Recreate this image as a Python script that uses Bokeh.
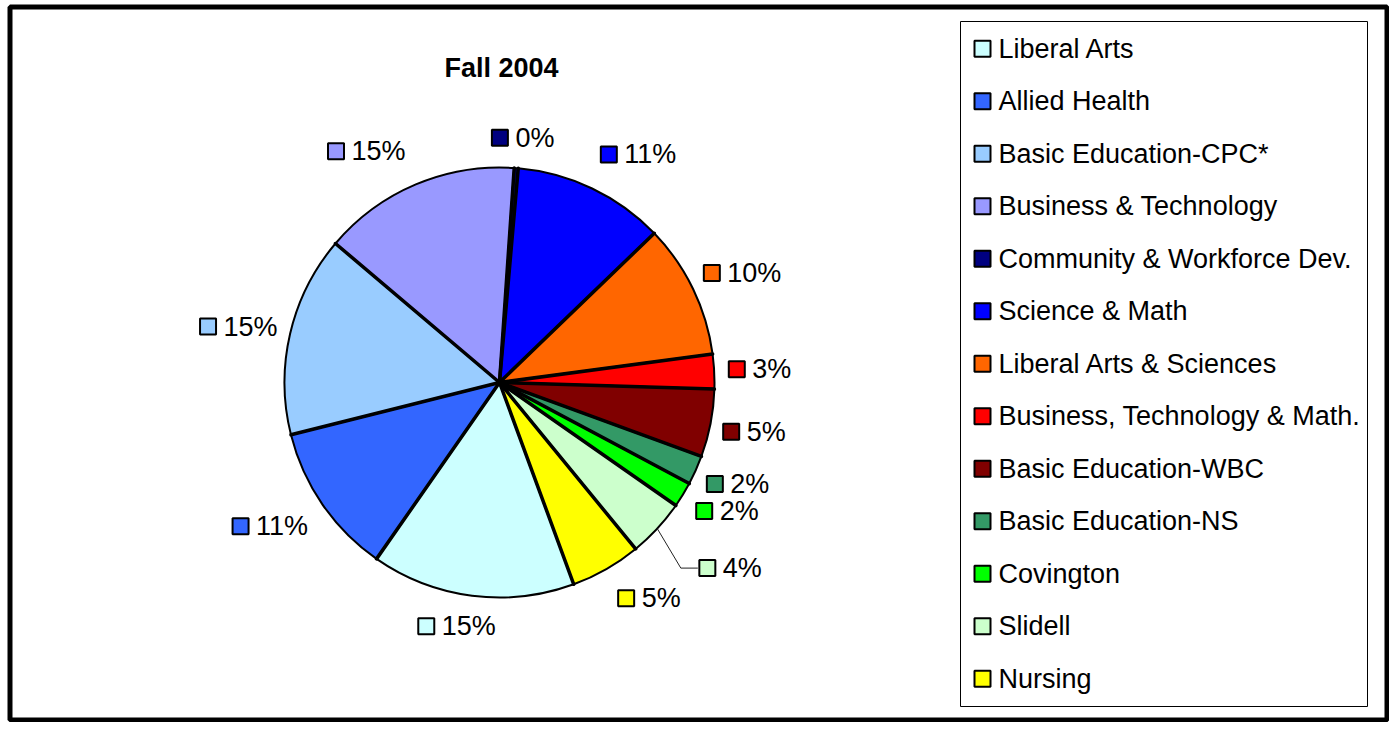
import math
from bokeh.plotting import figure
from bokeh.models import Range1d
from bokeh.core.properties import value
from bokeh.embed import file_html
from bokeh.resources import INLINE

# ---------------- data ----------------
chart_title = "Fall 2004"
categories = ["Liberal Arts", "Allied Health", "Basic Education-CPC*", "Business & Technology",
              "Community & Workforce Dev.", "Science & Math", "Liberal Arts & Sciences",
              "Business, Technology & Math.", "Basic Education-WBC", "Basic Education-NS",
              "Covington", "Slidell", "Nursing"]
shares = [15.3, 11.4, 15.1, 14.9, 0.3, 11.4, 10.1, 2.6, 5.1, 2.2, 1.9, 4.4, 5.3]
colors = ["#CCFFFF", "#3366FF", "#99CCFF", "#9999FF", "#000080", "#0000FF", "#FF6600",
          "#FF0000", "#800000", "#339966", "#00FF00", "#CCFFCC", "#FFFF00"]

# ---------------- layout ----------------
W, H = 1389, 722
PAGE_H = 738
FONT = value("Liberation Sans")
FS = 27
FS_STR = "%dpx" % FS

def sy(y):  # screen y (reference) -> data y
    return PAGE_H - y

p = figure(width=W, height=H, x_range=Range1d(0, W), y_range=Range1d(PAGE_H - H, PAGE_H),
           output_backend="svg", toolbar_location=None, min_border=0,
           x_axis_type=None, y_axis_type=None)
p.grid.visible = False
p.outline_line_color = None
p.background_fill_color = "white"
p.border_fill_color = "white"

# outer frame (outer edge at x=7, y=4, right/bottom at canvas edge)
fx0, fx1 = 9.5, W - 2.5
fy0, fy1 = 6.5, H - 2.5
p.rect(x=(fx0 + fx1) / 2, y=sy((fy0 + fy1) / 2), width=fx1 - fx0, height=fy1 - fy0,
       fill_color=None, line_color="black", line_width=5)

# title
p.text(x=[501], y=[sy(67)], text=[chart_title], text_font=FONT, text_font_size=FS_STR,
       text_font_style="bold", text_align="center", text_baseline="middle", text_color="black")

# pie
cx, cy, r = 499, sy(382), 215
start_deg = 159.8  # clockwise from 12 o'clock
total = sum(shares)
starts, ends, mids = [], [], []
acc = start_deg
for s in shares:
    a0 = acc
    a1 = acc + s / total * 360.0
    starts.append(a0)
    ends.append(a1)
    mids.append((a0 + a1) / 2)
    acc = a1

p.wedge(x=[cx] * len(shares), y=[cy] * len(shares), radius=r,
        start_angle=[math.radians(90 - e) for e in ends],
        end_angle=[math.radians(90 - s) for s in starts],
        fill_color=colors, line_color="black", line_width=2)
# heavier slice separators
sep_xs = [[cx, cx + r * math.sin(math.radians(a))] for a in starts]
sep_ys = [[cy, cy + r * math.cos(math.radians(a))] for a in starts]
p.multi_line(xs=sep_xs, ys=sep_ys, line_color="black", line_width=3.5, line_cap="round")

# data labels
pct_labels = ["%d%%" % int(math.floor(s / total * 100 + 0.5)) for s in shares]
glyph_w = {"0": 556, "1": 556, "2": 556, "3": 556, "4": 556, "5": 556, "6": 556,
           "7": 556, "8": 556, "9": 556, "%": 889}
label_nudge = [2.6, 2.4, -1.0, -7.0, 1.0, 6.0, 1.5, 0.0, 0.0, -1.0, -2.0, -4.0, -5.0]
label_pad = [12.9, 15, 11, 21, 15, 21, 10.5, 13.5, 11, 10, 12.7, 48.5, 19]
MK = 16
lab_mx, lab_my, lab_tx = [], [], []
lead_xs, lead_ys = [], []
for i, lab in enumerate(pct_labels):
    tw = FS * sum(glyph_w[c] for c in lab) / 1000.0
    bw, bh = 17 + 7 + tw, 26
    th = math.radians(mids[i] + label_nudge[i])
    ux, uy = math.sin(th), math.cos(th)
    R = r + label_pad[i] + abs(ux) * bw / 2 + abs(uy) * bh / 2
    bx, by = cx + R * ux, cy + R * uy
    left = bx - bw / 2
    lab_mx.append(left + 8.5)
    lab_my.append(by)
    lab_tx.append(left + 24)
    if label_pad[i] > 30:
        tm = math.radians(mids[i])
        lead_xs.append([cx + r * math.sin(tm), left - 18, left - 1])
        lead_ys.append([cy + r * math.cos(tm), by, by])

if lead_xs:
    p.multi_line(xs=lead_xs, ys=lead_ys, line_color="#222222", line_width=1)
p.rect(x=lab_mx, y=lab_my, width=MK, height=MK, fill_color=colors, line_color="black", line_width=2)
p.text(x=lab_tx, y=lab_my, text=pct_labels, text_font=FONT, text_font_size=FS_STR,
       text_align="left", text_baseline="middle", text_color="black")

# legend (manual)
p.rect(x=(960 + 1367) / 2, y=sy((21 + 706) / 2), width=1367 - 960, height=706 - 21,
       fill_color="white", line_color="black", line_width=1)
leg_y = [sy(48.3 + 52.5 * i) for i in range(len(categories))]
p.rect(x=[982] * len(categories), y=leg_y, width=MK, height=MK, fill_color=colors,
       line_color="black", line_width=2)
p.text(x=[998] * len(categories), y=leg_y, text=categories, text_font=FONT,
       text_font_size=FS_STR, text_align="left", text_baseline="middle", text_color="black")

open("out.html", "w").write(file_html(p, INLINE))
